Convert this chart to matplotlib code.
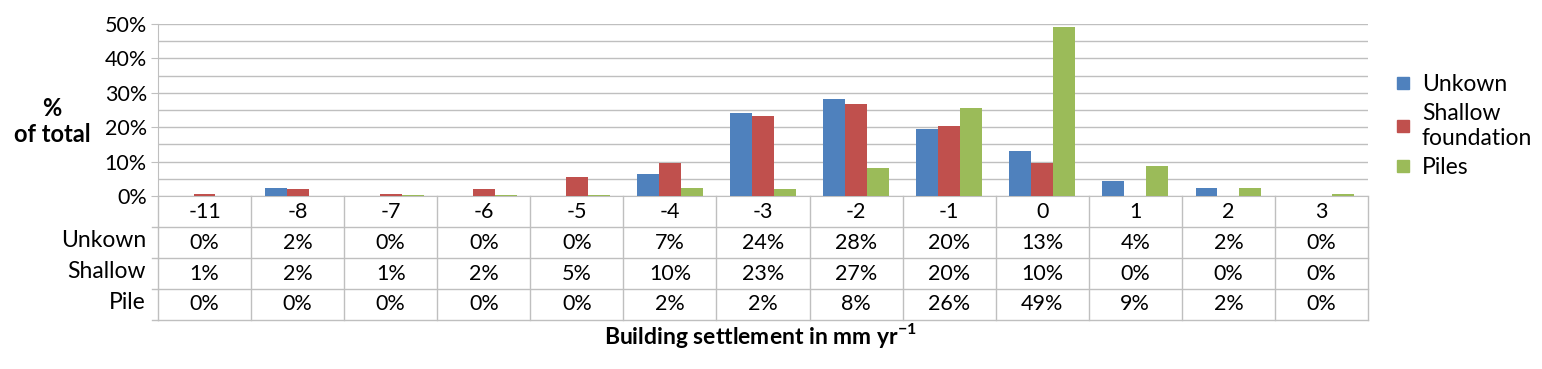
import numpy as np
import matplotlib
matplotlib.use('Agg')
import matplotlib.pyplot as plt
from matplotlib.lines import Line2D

plt.rcParams.update({
    'font.family': 'Lato',
    'font.size': 15,
    'mathtext.fontset': 'custom',
    'mathtext.rm': 'Lato',
    'mathtext.bf': 'Lato:bold',
})

# settlement classes (mm/yr)
categories = ['-11', '-8', '-7', '-6', '-5', '-4', '-3', '-2', '-1', '0', '1', '2', '3']
# fractions
unknown = [0.000, 0.022, 0.000, 0.000, 0.000, 0.065, 0.241, 0.283, 0.196, 0.131, 0.043, 0.022, 0.000]
shallow = [0.007, 0.020, 0.006, 0.020, 0.055, 0.096, 0.232, 0.266, 0.203, 0.096, 0.000, 0.000, 0.000]
piles = [0.000, 0.000, 0.004, 0.003, 0.003, 0.023, 0.020, 0.082, 0.256, 0.490, 0.088, 0.023, 0.005]
# values printed in the data table
tab_unknown = ['0%', '2%', '0%', '0%', '0%', '7%', '24%', '28%', '20%', '13%', '4%', '2%', '0%']
tab_shallow = ['1%', '2%', '1%', '2%', '5%', '10%', '23%', '27%', '20%', '10%', '0%', '0%', '0%']
tab_pile = ['0%', '0%', '0%', '0%', '0%', '2%', '2%', '8%', '26%', '49%', '9%', '2%', '0%']
row_names = ['Unkown', 'Shallow', 'Pile']
legend_names = ['Unkown', 'Shallow\nfoundation', 'Piles']

colors = ['#4F81BD', '#C0504D', '#9BBB59']
grid_c = '#BFBFBF'

W, H = 1542, 369
fig = plt.figure(figsize=(W / 100, H / 100), dpi=100)

x0, x1 = 158, 1368
ax = fig.add_axes([x0 / W, 1 - 196 / H, (x1 - x0) / W, (196 - 24) / H])
tab = fig.add_axes([x0 / W, 1 - 320 / H, (x1 - x0) / W, (320 - 196) / H])

x = np.arange(len(categories))
w = 0.235
for i, (vals, c) in enumerate(zip([unknown, shallow, piles], colors)):
    ax.bar(x + (i - 1) * w, vals, w, color=c, zorder=3)

ax.set_xlim(-0.5, len(categories) - 0.5)
ax.set_ylim(0, 0.5)
ax.set_yticks(np.arange(0, 0.51, 0.1))
ax.set_yticklabels([f'{int(round(v * 100))}%' for v in np.arange(0, 0.51, 0.1)])
ax.set_yticks(np.arange(0.05, 0.5, 0.1), minor=True)
ax.grid(True, axis='y', which='both', color=grid_c, lw=1, zorder=0)
ax.set_xticks([])
ax.tick_params(axis='y', which='major', length=5, color=grid_c, pad=3, labelsize=15.5)
ax.tick_params(axis='y', which='minor', length=0)
for s in ['top', 'right']:
    ax.spines[s].set_visible(False)
ax.spines['left'].set_color(grid_c)
ax.spines['bottom'].set_color(grid_c)

# data table
tab.set_xlim(-0.5, len(categories) - 0.5)
tab.set_ylim(4, 0)
tab.axis('off')
for r in range(1, 5):
    tab.plot([-0.5, len(categories) - 0.5], [r, r], color=grid_c, lw=1, clip_on=False)
    tab.plot([-0.56, -0.5], [r, r], color=grid_c, lw=1, clip_on=False)
for k in range(len(categories) + 1):
    tab.plot([k - 0.5, k - 0.5], [0, 4], color=grid_c, lw=1, clip_on=False)
rows = [categories, tab_unknown, tab_shallow, tab_pile]
for r, row in enumerate(rows):
    for k, t in enumerate(row):
        tab.text(k, r + 0.5, t, ha='center', va='center', fontsize=15.5)
for r, name in enumerate(row_names):
    tab.text(-0.63, r + 1.45, name, ha='right', va='center', fontsize=16.5)

fig.text(760 / W, 1 - 336 / H, r'Building settlement in mm yr$^{\mathbf{-1}}$',
         ha='center', va='center', fontsize=16.5, fontweight='bold')
fig.text(52 / W, 1 - 108 / H, '%', ha='center', va='center', fontsize=17, fontweight='bold')
fig.text(52 / W, 1 - 134 / H, 'of total', ha='center', va='center', fontsize=17, fontweight='bold')

handles = [Line2D([], [], marker='s', ls='', color=c, markersize=9) for c in colors]
fig.legend(handles, legend_names, loc='center left', bbox_to_anchor=(1384 / W, 1 - 126 / H),
           frameon=False, fontsize=16.5, handlelength=0.7, handletextpad=0.45, labelspacing=0.35,
           borderpad=0)

fig.savefig('out.png', dpi=100)
